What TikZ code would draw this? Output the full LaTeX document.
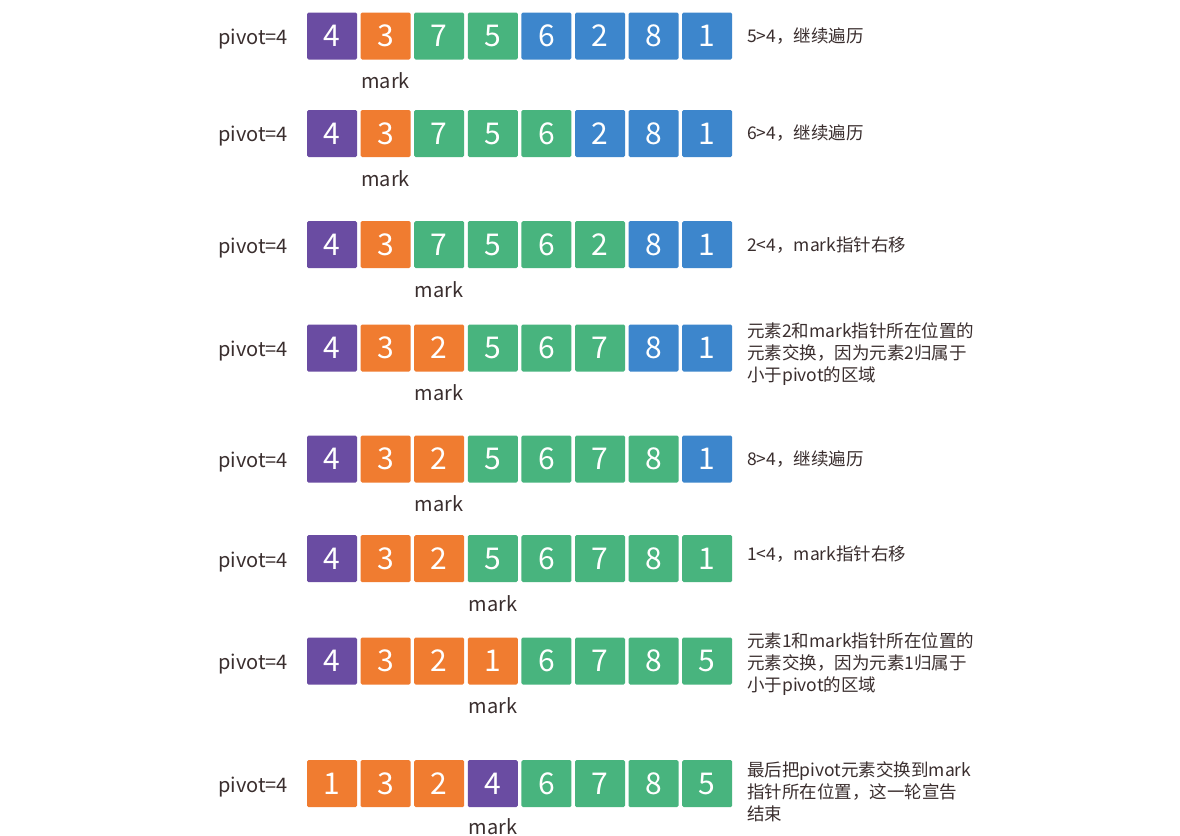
\documentclass[tikz,border=0pt]{standalone}
\usepackage{fontspec}
\setmainfont{Noto Sans CJK SC}
\definecolor{P}{HTML}{6A4CA2}
\definecolor{O}{HTML}{F07C30}
\definecolor{G}{HTML}{48B47E}
\definecolor{B}{HTML}{3D86CC}
\definecolor{ink}{HTML}{3A2E2E}
\tikzset{
  cellbox/.style={rounded corners=1.5pt, minimum width=50pt, minimum height=47pt, inner sep=0pt, text=white, font=\fontsize{30}{30}\selectfont},
  lbl/.style={text=ink, inner sep=0pt, font=\fontsize{20}{20}\selectfont},
  desc/.style={text=ink, inner sep=0pt, anchor=west, align=left, font=\fontsize{17.5}{22}\selectfont},
}
\newcommand{\arrrow}[3]{%
  \foreach \d/\c [count=\i from 0] in {#3} {
    \node[cellbox, fill=\c] (c#1-\i) at ({332+53.6*\i}, #2) {\d};
  }
  \node[lbl] (p#1) at (253, #2+3) {pivot=4};
}
\begin{document}
\begin{tikzpicture}[x=1pt, y=-1pt]
\useasboundingbox (0,0) rectangle (1180,835);
\fill[white] (0,0) rectangle (1180,835);
% row 1
\arrrow{1}{36}{4/P,3/O,7/G,5/G,6/B,2/B,8/B,1/B}
\node[lbl] (m1) at ([yshift=-45pt]c1-1) {mark};
\node[desc] (t1) at (747,36) {5>4，继续遍历};
% row 2
\arrrow{2}{133.5}{4/P,3/O,7/G,5/G,6/G,2/B,8/B,1/B}
\node[lbl] (m2) at ([yshift=-45pt]c2-1) {mark};
\node[desc] (t2) at (747,133.5) {6>4，继续遍历};
% row 3
\arrrow{3}{244.6}{4/P,3/O,7/G,5/G,6/G,2/G,8/B,1/B}
\node[lbl] (m3) at ([yshift=-45pt]c3-2) {mark};
\node[desc] (t3) at (747,244.6) {2<4，mark指针右移};
% row 4
\arrrow{4}{348}{4/P,3/O,2/O,5/G,6/G,7/G,8/B,1/B}
\node[lbl] (m4) at ([yshift=-45pt]c4-2) {mark};
\node[desc] (t4) at (747,354) {元素2和mark指针所在位置的\\元素交换，因为元素2归属于\\小于pivot的区域};
% row 5
\arrrow{5}{459}{4/P,3/O,2/O,5/G,6/G,7/G,8/G,1/B}
\node[lbl] (m5) at ([yshift=-45pt]c5-2) {mark};
\node[desc] (t5) at (747,459) {8>4，继续遍历};
% row 6
\arrrow{6}{558.6}{4/P,3/O,2/O,5/G,6/G,7/G,8/G,1/G}
\node[lbl] (m6) at ([yshift=-45pt]c6-3) {mark};
\node[desc] (t6) at (747,554) {1<4，mark指针右移};
% row 7
\arrrow{7}{661}{4/P,3/O,2/O,1/O,6/G,7/G,8/G,5/G}
\node[lbl] (m7) at ([yshift=-45pt]c7-3) {mark};
\node[desc] (t7) at (747,664) {元素1和mark指针所在位置的\\元素交换，因为元素1归属于\\小于pivot的区域};
% row 8
\arrrow{8}{783.6}{1/O,3/O,2/O,4/P,6/G,7/G,8/G,5/G}
\node[lbl] (m8) at ([yshift=-43pt]c8-3) {mark};
\node[desc] (t8) at (747,792) {最后把pivot元素交换到mark\\指针所在位置，这一轮宣告\\结束};
\end{tikzpicture}
\end{document}
